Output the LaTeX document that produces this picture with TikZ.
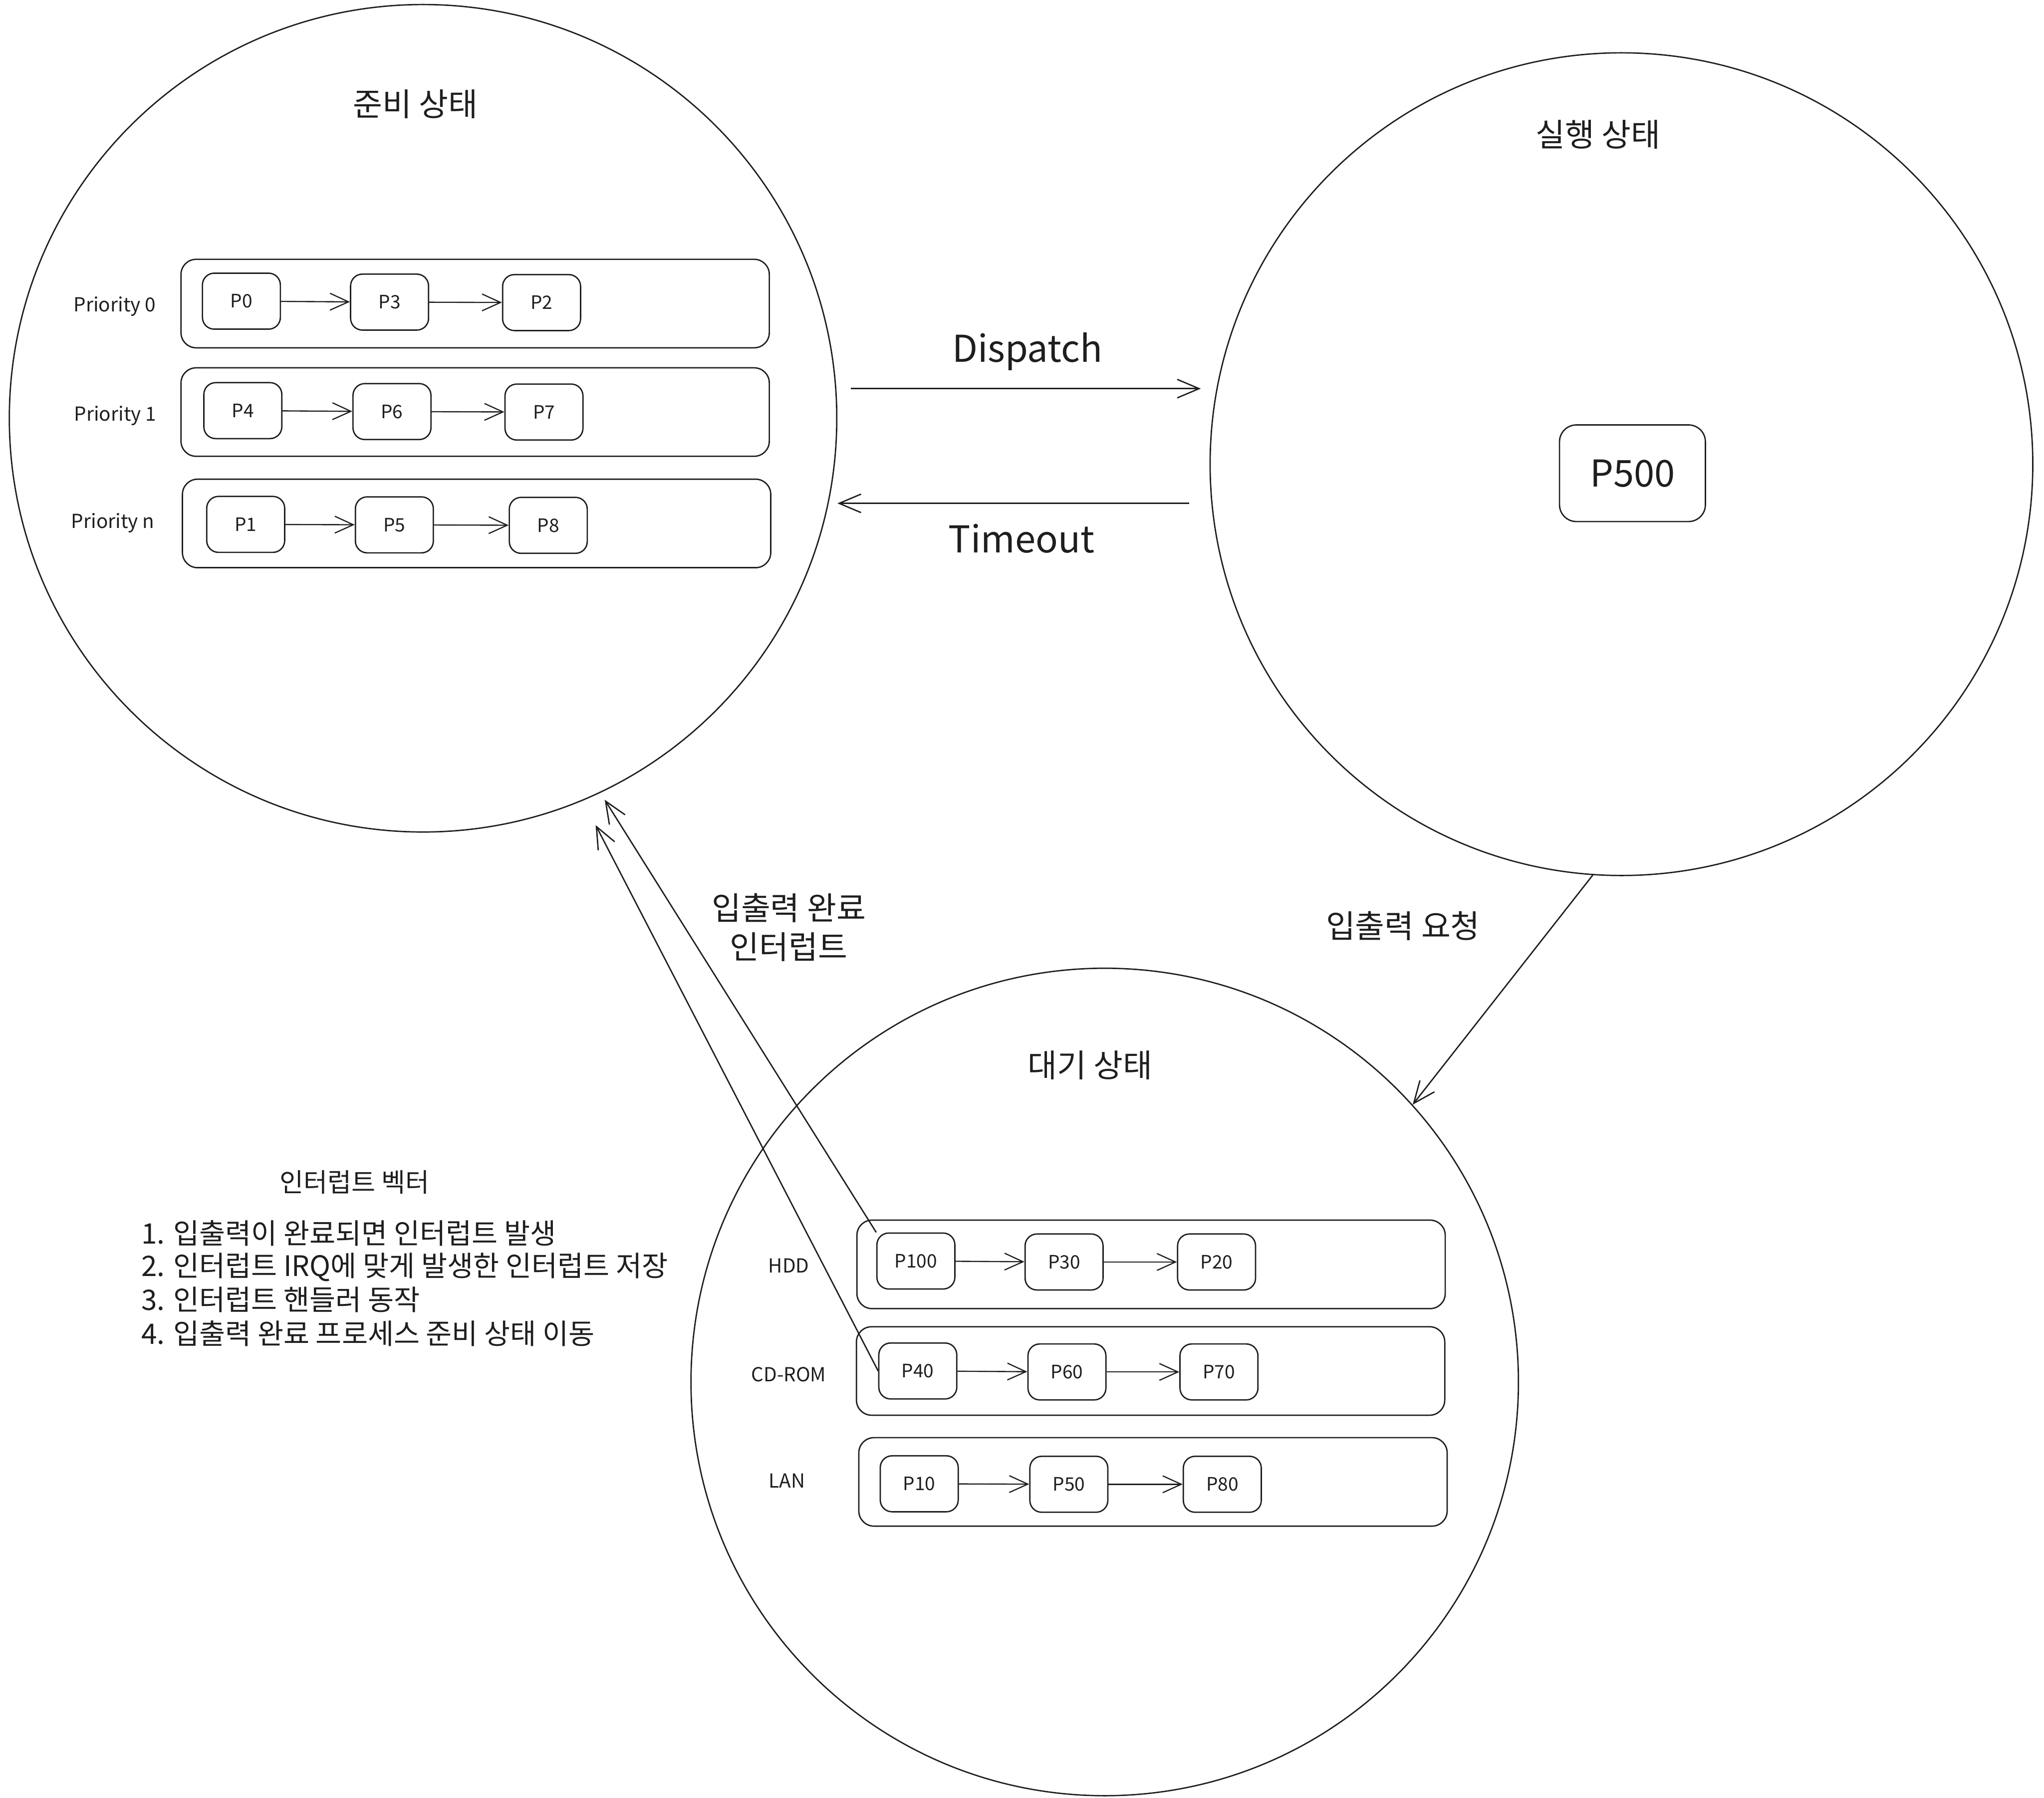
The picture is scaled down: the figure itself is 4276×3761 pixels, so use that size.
\documentclass[tikz,border=0pt]{standalone}
\usepackage{fontspec}
\setmainfont{Noto Sans CJK KR}
\usetikzlibrary{arrows.meta}
\definecolor{ink}{HTML}{1E1E1E}
\begin{document}
\begin{tikzpicture}[x=0.01cm, y=-0.01cm, every node/.style={text=ink},
  state/.style={draw=ink, circle, line width=0.8pt, inner sep=0pt},
  qbox/.style={draw=ink, rounded corners=9pt, minimum width=12.3cm, minimum height=1.85cm, line width=0.8pt, inner sep=0pt},
  pbox/.style={draw=ink, rounded corners=7pt, minimum width=1.63cm, minimum height=1.17cm, line width=0.8pt, inner sep=0pt, font=\fontsize{11}{13}\selectfont},
  bigp/.style={draw=ink, rounded corners=10pt, minimum width=3.05cm, minimum height=2.02cm, line width=0.8pt, inner sep=0pt, font=\fontsize{22}{26}\selectfont},
  ttl/.style={font=\fontsize{19}{23}\selectfont},
  lbl/.style={font=\fontsize{22}{26}\selectfont},
  qlbl/.style={font=\fontsize{11.5}{14}\selectfont},
  lst/.style={font=\fontsize{16.8}{20}\selectfont, anchor=west, inner sep=0pt},
  arr/.style={draw=ink, -{Straight Barb[length=13pt,width=11pt]}, line width=0.8pt},
  sarr/.style={draw=ink, -{Straight Barb[length=11pt,width=10pt]}, line width=0.7pt}
]
\useasboundingbox (0,0) rectangle (4276,3761);

% state circles
\node[state, minimum size=17.3cm] (ready) at (885,875) {};
\node[state, minimum size=17.2cm] (run) at (3392,971) {};
\node[state, minimum size=17.3cm] (wait) at (2311,2891) {};

% titles
\node[ttl] (tready) at (869,218) {준비 상태};
\node[ttl] (trun) at (3343,281) {실행 상태};
\node[ttl] (twait) at (2280,2228) {대기 상태};

% ready queues
\node[qbox] (q0) at (994,635) {};
\node[qbox] (q1) at (994,862) {};
\node[qbox] (qn) at (997,1095) {};
\node[qlbl] (l0) at (240,641) {Priority 0};
\node[qlbl] (l1) at (241,870) {Priority 1};
\node[qlbl] (ln) at (236,1094) {Priority n};

\node[pbox] (p0) at (505,630) {P0};
\node[pbox] (p3) at (815,632) {P3};
\node[pbox] (p2) at (1133,633) {P2};
\node[pbox] (p4) at (508,859) {P4};
\node[pbox] (p6) at (820,861) {P6};
\node[pbox] (p7) at (1138,862) {P7};
\node[pbox] (p1) at (514,1097) {P1};
\node[pbox] (p5) at (825,1098) {P5};
\node[pbox] (p8) at (1147,1099) {P8};
\draw[sarr] (p0) -- (p3);
\draw[sarr] (p3) -- (p2);
\draw[sarr] (p4) -- (p6);
\draw[sarr] (p6) -- (p7);
\draw[sarr] (p1) -- (p5);
\draw[sarr] (p5) -- (p8);

% running
\node[bigp] (p500) at (3415,990) {P500};

% waiting queues
\node[qbox] (qh) at (2408,2645) {};
\node[qbox] (qc) at (2407,2868) {};
\node[qbox] (ql) at (2412,3100) {};
\node[qlbl] (lh) at (1650,2648) {HDD};
\node[qlbl] (lc) at (1650,2875) {CD-ROM};
\node[qlbl] (ll) at (1646,3098) {LAN};

\node[pbox] (p100) at (1916,2638) {P100};
\node[pbox] (p30) at (2226,2640) {P30};
\node[pbox] (p20) at (2545,2640) {P20};
\node[pbox] (p40) at (1920,2868) {P40};
\node[pbox] (p60) at (2232,2870) {P60};
\node[pbox] (p70) at (2550,2870) {P70};
\node[pbox] (p10) at (1923,3104) {P10};
\node[pbox] (p50) at (2236,3105) {P50};
\node[pbox] (p80) at (2557,3105) {P80};
\draw[sarr] (p100) -- (p30);
\draw[sarr] (p30) -- (p20);
\draw[sarr] (p40) -- (p60);
\draw[sarr] (p60) -- (p70);
\draw[sarr] (p10) -- (p50);
\draw[sarr] (p50) -- (p80);

% dispatch / timeout
\coordinate (dy) at (0,813);
\coordinate (ty) at (0,1053);
\draw[arr, shorten <=0.28cm, shorten >=0.18cm] (ready.east |- dy) -- (run.west |- dy);
\draw[arr, shorten <=0.42cm] (run.west |- ty) -- (ready.east |- ty);
\node[lbl] (tdisp) at (2149,735) {Dispatch};
\node[lbl] (ttime) at (2137,1127) {Timeout};

% io request
\draw[arr] (run.266) -- (wait.42);
\node[ttl] (tio) at (2935,1937) {입출력 요청};

% io complete interrupt
\coordinate (i1) at (1265,1673);
\coordinate (i2) at (1246,1726);
\draw[arr] (p100.north west) -- (i1);
\draw[arr] (p40.west) -- (i2);
\node[ttl, align=center] (tint) at (1650,1940) {입출력 완료\\인터럽트};

% interrupt vector list
\node[font=\fontsize{15.5}{19}\selectfont] (tvec) at (742,2473) {인터럽트 벡터};
\node[lst] (s1) at (295,2580) {1. 입출력이 완료되면 인터럽트 발생};
\node[lst] (s2) at (295,2651) {2. 인터럽트 IRQ에 맞게 발생한 인터럽트 저장};
\node[lst] (s3) at (295,2719) {3. 인터럽트 핸들러 동작};
\node[lst] (s4) at (295,2790) {4. 입출력 완료 프로세스 준비 상태 이동};
\end{tikzpicture}
\end{document}
